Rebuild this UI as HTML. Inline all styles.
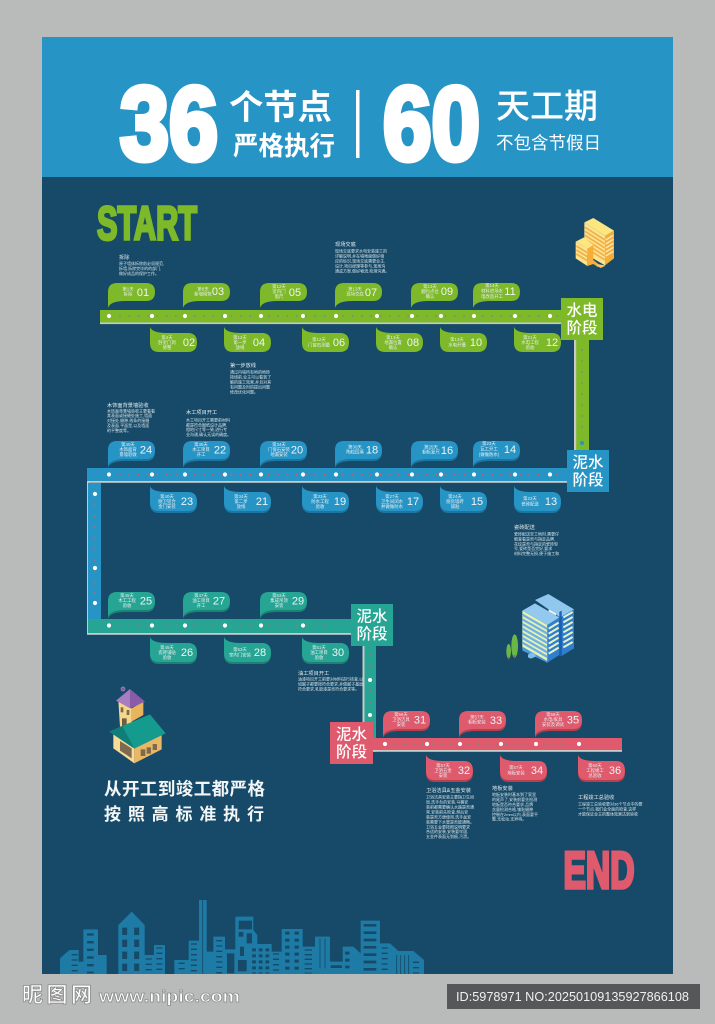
<!DOCTYPE html>
<html lang="zh"><head><meta charset="utf-8"><title>36个节点 60天工期</title>
<style>
html,body{margin:0;padding:0;background:#b9baba}
svg{display:block}
text{font-family:"Liberation Sans","Noto Sans CJK SC",sans-serif}
.t{font-size:4.4px;fill:#e6eef0;text-anchor:middle}
.n{font-size:11px;fill:#eef5f5;text-anchor:middle}
.h{font-size:5.2px;fill:#e6ecef}
.b{font-size:4px;fill:#d8e2e7}
.x{font-size:15.5px;font-weight:500;fill:#fff;text-anchor:middle}
</style></head><body>
<svg width="715" height="1024" viewBox="0 0 715 1024" xmlns="http://www.w3.org/2000/svg">
<defs>
<path id="u" d="M0,25V9Q0,0 9,0H38Q47,0 47,9Q47,18 38,18H17Q2,18 0,25Z"/>
<path id="d" d="M0,-6Q2,0 17,0H38Q47,0 47,9.5Q47,19 38,19H9Q0,19 0,10Z"/>
</defs>
<rect width="715" height="1024" fill="#b9baba"/>
<rect x="42" y="37" width="631" height="937" fill="#164a68"/>
<rect x="42" y="37" width="631" height="140" fill="#2794c6"/>

<!-- header -->
<g fill="#fff">
<text x="120" y="159.500" font-size="104" font-weight="700" stroke="#fff" stroke-width="6" textLength="98" lengthAdjust="spacingAndGlyphs">36</text>
<text x="383" y="159.500" font-size="104" font-weight="700" stroke="#fff" stroke-width="6" textLength="97" lengthAdjust="spacingAndGlyphs">60</text>
<text x="229" y="119" font-size="34" font-weight="700" textLength="103" lengthAdjust="spacingAndGlyphs">个节点</text>
<text x="233" y="155" font-size="26" font-weight="700" textLength="102" lengthAdjust="spacingAndGlyphs">严格执行</text>
<rect x="356" y="90" width="3.5" height="68"/>
<text x="496" y="118" font-size="34" font-weight="500" textLength="102" lengthAdjust="spacingAndGlyphs">天工期</text>
<text x="496" y="149" font-size="17.5" textLength="105" lengthAdjust="spacingAndGlyphs">不包含节假日</text>
</g>

<!-- START / END -->
<text x="97" y="239.500" font-size="47" font-weight="700" fill="#7db928" stroke="#7db928" stroke-width="3" textLength="100" lengthAdjust="spacingAndGlyphs">START</text>
<text x="563.500" y="888" font-size="52" font-weight="700" fill="#de5a6c" stroke="#de5a6c" stroke-width="3.500" textLength="71" lengthAdjust="spacingAndGlyphs">END</text>

<!-- red vertical link/teal road -->
<rect x="363" y="640" width="13" height="112" fill="#27a594"/>
<rect x="362.5" y="646" width="2" height="106" fill="#c9c9c9"/>
<path d="M370,655V735" stroke="#c8606a" stroke-width="1.8" stroke-linecap="round" stroke-dasharray="0 12"/>
<circle cx="370" cy="680" r="2" fill="#fff"/><circle cx="370" cy="715" r="2" fill="#fff"/>

<rect x="87" y="481" width="1.8" height="153" fill="#c9c9c9"/>
<rect x="88" y="483" width="13" height="137" fill="#2794c6"/>
<path d="M95,505V600" stroke="#c8606a" stroke-width="1.8" stroke-linecap="round" stroke-dasharray="0 11"/>
<circle cx="95" cy="494" r="2.1" fill="#fff"/><circle cx="95" cy="568" r="2.1" fill="#fff"/><circle cx="95" cy="603" r="2.1" fill="#fff"/>

<rect x="574" y="335" width="15" height="120" fill="#7db928"/>
<rect x="574" y="340" width="2.2" height="112" fill="#c9c9c9"/>
<path d="M582,350V430" stroke="#6e8f8a" stroke-width="1.8" stroke-linecap="round" stroke-dasharray="0 11"/>
<circle cx="582" cy="443" r="2.1" fill="#2794c6"/>

<!-- roads -->
<rect x="100" y="310" width="470" height="12.5" fill="#7db928"/>
<rect x="100" y="322.5" width="462" height="1.6" fill="#c9c9c9"/>
<path d="M120,316H558" stroke="#6e8f8a" stroke-width="1.8" stroke-linecap="round" stroke-dasharray="0 9.3"/>

<rect x="87" y="468" width="485" height="13" fill="#2794c6"/>
<rect x="87" y="481" width="480" height="1.8" fill="#c9c9c9"/>
<path d="M120,474.5H560" stroke="#c8606a" stroke-width="1.8" stroke-linecap="round" stroke-dasharray="0 9.3"/>

<rect x="88" y="619" width="266" height="14" fill="#27a594"/>
<rect x="87" y="633" width="275" height="1.8" fill="#c9c9c9"/>
<path d="M120,625.5H330" stroke="#c8606a" stroke-width="1.8" stroke-linecap="round" stroke-dasharray="0 9.3"/>

<rect x="373" y="738" width="249" height="12" fill="#de5a6c"/>
<rect x="373" y="750" width="249" height="1.8" fill="#c9c9c9"/>
<path d="M395,744H570" stroke="#4f9a85" stroke-width="1.8" stroke-linecap="round" stroke-dasharray="0 9.3"/>

<!-- white dots -->
<g fill="#fff">
<circle cx="109" cy="316" r="2.1"/><circle cx="152" cy="316" r="2.1"/><circle cx="185" cy="316" r="2.1"/><circle cx="225" cy="316" r="2.1"/><circle cx="261" cy="316" r="2.1"/><circle cx="303" cy="316" r="2.1"/><circle cx="336" cy="316" r="2.1"/><circle cx="377" cy="316" r="2.1"/><circle cx="412" cy="316" r="2.1"/><circle cx="441" cy="316" r="2.1"/><circle cx="474" cy="316" r="2.1"/><circle cx="515" cy="316" r="2.1"/><circle cx="550" cy="316" r="2.1"/>
<circle cx="109" cy="474.5" r="2.1"/><circle cx="152" cy="474.5" r="2.1"/><circle cx="185" cy="474.5" r="2.1"/><circle cx="225" cy="474.5" r="2.1"/><circle cx="261" cy="474.5" r="2.1"/><circle cx="303" cy="474.5" r="2.1"/><circle cx="336" cy="474.5" r="2.1"/><circle cx="377" cy="474.5" r="2.1"/><circle cx="412" cy="474.5" r="2.1"/><circle cx="441" cy="474.5" r="2.1"/><circle cx="474" cy="474.5" r="2.1"/><circle cx="515" cy="474.5" r="2.1"/><circle cx="550" cy="474.5" r="2.1"/>
<circle cx="109" cy="625.5" r="2.1"/><circle cx="152" cy="625.5" r="2.1"/><circle cx="185" cy="625.5" r="2.1"/><circle cx="225" cy="625.5" r="2.1"/><circle cx="261" cy="625.5" r="2.1"/><circle cx="303" cy="625.5" r="2.1"/>
<circle cx="385" cy="744" r="2.1"/><circle cx="427" cy="744" r="2.1"/><circle cx="460" cy="744" r="2.1"/><circle cx="501" cy="744" r="2.1"/><circle cx="536" cy="744" r="2.1"/><circle cx="579" cy="744" r="2.1"/>
</g>

<!-- stage boxes -->
<rect x="561" y="298" width="42" height="42" fill="#7db928"/>
<text class="x" x="582" y="315.5" textLength="31">水电</text><text class="x" x="582" y="333" textLength="31">阶段</text>
<rect x="567" y="450" width="42" height="42" fill="#2794c6"/>
<text class="x" x="588" y="467.5" textLength="31">泥水</text><text class="x" x="588" y="485" textLength="31">阶段</text>
<rect x="351" y="604" width="42" height="42" fill="#27a594"/>
<text class="x" x="372" y="621.5" textLength="31">泥水</text><text class="x" x="372" y="639" textLength="31">阶段</text>
<rect x="330" y="722" width="43" height="42" fill="#de5a6c"/>
<text class="x" x="351.500" y="739.5" textLength="31">泥水</text><text class="x" x="351.500" y="757" textLength="31">阶段</text>

<!-- green bubbles -->
<g fill="#7db928">
<g transform="translate(108,283)"><use href="#u"/><text class="t" x="20" y="7.500">第1天</text><text class="t" x="20" y="12.500">拆除</text><text class="n" x="35" y="13">01</text></g>
<g transform="translate(183,283)"><use href="#u"/><text class="t" x="20" y="7.500">第8天</text><text class="t" x="20" y="12.500">新墙砌筑</text><text class="n" x="35" y="12">03</text></g>
<g transform="translate(260,283)"><use href="#u"/><text class="t" x="19" y="5">第12天</text><text class="t" x="19" y="10">室内门</text><text class="t" x="19" y="15">窗尺</text><text class="n" x="35" y="13">05</text></g>
<g transform="translate(335,283)"><use href="#u"/><text class="t" x="20" y="7.500">第13天</text><text class="t" x="20" y="12.500">现场交底</text><text class="n" x="36" y="13">07</text></g>
<g transform="translate(411,283)"><use href="#u"/><text class="t" x="19" y="5">第13天</text><text class="t" x="19" y="10">翻包点位</text><text class="t" x="19" y="15">确认</text><text class="n" x="36" y="12">09</text></g>
<g transform="translate(473,283)"><use href="#u"/><text class="t" x="19" y="4">第14天</text><text class="t" x="19" y="9.500">材料进场水</text><text class="t" x="19" y="15">电改造开工</text><text class="n" x="37" y="12">11</text></g>
<g transform="translate(150,333)"><use href="#d"/><text class="t" x="17" y="6">第4天</text><text class="t" x="17" y="11">卧室门洞</text><text class="t" x="17" y="16">修整</text><text class="n" x="39" y="13">02</text></g>
<g transform="translate(224,333)"><use href="#d"/><text class="t" x="16" y="6">第12天</text><text class="t" x="16" y="11">第一步</text><text class="t" x="16" y="16">放线</text><text class="n" x="35" y="13">04</text></g>
<g transform="translate(302,333)"><use href="#d"/><text class="t" x="17" y="8">第12天</text><text class="t" x="17" y="13.500">门窗石测量</text><text class="n" x="37" y="13">06</text></g>
<g transform="translate(376,333)"><use href="#d"/><text class="t" x="17" y="6">第13天</text><text class="t" x="17" y="11">地漏位置</text><text class="t" x="17" y="16">确认</text><text class="n" x="37" y="13">08</text></g>
<g transform="translate(440,333)"><use href="#d"/><text class="t" x="17" y="8">第13天</text><text class="t" x="17" y="13.500">水电开槽</text><text class="n" x="36" y="13">10</text></g>
<g transform="translate(514,333)"><use href="#d"/><text class="t" x="16" y="6">第21天</text><text class="t" x="16" y="11">水电工程</text><text class="t" x="16" y="16">验收</text><text class="n" x="38" y="13">12</text></g>
</g>

<!-- blue bubbles -->
<g fill="#2794c6">
<g transform="translate(108,441)"><use href="#u" y="2" fill="#1c76a3"/><use href="#u"/><text class="t" x="20" y="5">第40天</text><text class="t" x="20" y="10">木饰面背</text><text class="t" x="20" y="15">景墙验收</text><text class="n" x="38" y="12.500">24</text></g>
<g transform="translate(183,441)"><use href="#u" y="2" fill="#1c76a3"/><use href="#u"/><text class="t" x="18" y="5">第35天</text><text class="t" x="18" y="10">木工项目</text><text class="t" x="18" y="15">开工</text><text class="n" x="37" y="12.500">22</text></g>
<g transform="translate(260,441)"><use href="#u" y="2" fill="#1c76a3"/><use href="#u"/><text class="t" x="19" y="5">第34天</text><text class="t" x="19" y="10">门窗石安装</text><text class="t" x="19" y="15">地漏安装</text><text class="n" x="37" y="12.500">20</text></g>
<g transform="translate(335,441)"><use href="#u" y="2" fill="#1c76a3"/><use href="#u"/><text class="t" x="20" y="7.500">第30天</text><text class="t" x="20" y="12.500">陶粒回填</text><text class="n" x="37" y="12.500">18</text></g>
<g transform="translate(411,441)"><use href="#u" y="2" fill="#1c76a3"/><use href="#u"/><text class="t" x="20" y="7.500">第25天</text><text class="t" x="20" y="12.500">橱柜复尺</text><text class="n" x="36" y="13">16</text></g>
<g transform="translate(473,441)"><use href="#u" y="2" fill="#1c76a3"/><use href="#u"/><text class="t" x="16" y="4">第23天</text><text class="t" x="16" y="9.500">瓦工开工</text><text class="t" x="16" y="15">(做做防水)</text><text class="n" x="37" y="12">14</text></g>
<g transform="translate(150,492)"><use href="#d" y="2" fill="#1c76a3"/><use href="#d"/><text class="t" x="17" y="6">第40天</text><text class="t" x="17" y="11">厨卫铝合</text><text class="t" x="17" y="16">金门安装</text><text class="n" x="37" y="13">23</text></g>
<g transform="translate(224,492)"><use href="#d" y="2" fill="#1c76a3"/><use href="#d"/><text class="t" x="17" y="6">第34天</text><text class="t" x="17" y="11">第二步</text><text class="t" x="17" y="16">放线</text><text class="n" x="38" y="13">21</text></g>
<g transform="translate(302,492)"><use href="#d" y="2" fill="#1c76a3"/><use href="#d"/><text class="t" x="18" y="6">第33天</text><text class="t" x="18" y="11">防水工程</text><text class="t" x="18" y="16">验收</text><text class="n" x="38" y="13">19</text></g>
<g transform="translate(376,492)"><use href="#d" y="2" fill="#1c76a3"/><use href="#d"/><text class="t" x="16" y="6">第27天</text><text class="t" x="16" y="11">卫生间闭水</text><text class="t" x="16" y="16">并做做防水</text><text class="n" x="37" y="13">17</text></g>
<g transform="translate(440,492)"><use href="#d" y="2" fill="#1c76a3"/><use href="#d"/><text class="t" x="15" y="6">第24天</text><text class="t" x="15" y="11">厨房墙砖</text><text class="t" x="15" y="16">铺贴</text><text class="n" x="37" y="13">15</text></g>
<g transform="translate(514,492)"><use href="#d" y="2" fill="#1c76a3"/><use href="#d"/><text class="t" x="16" y="8">第22天</text><text class="t" x="16" y="13.500">瓷砖配送</text><text class="n" x="37" y="13">13</text></g>
</g>

<!-- teal bubbles -->
<g fill="#27a594">
<g transform="translate(108,592)"><use href="#u" y="2" fill="#1d8173"/><use href="#u"/><text class="t" x="19" y="5">第45天</text><text class="t" x="19" y="10">木工工程</text><text class="t" x="19" y="15">验收</text><text class="n" x="38" y="12.500">25</text></g>
<g transform="translate(183,592)"><use href="#u" y="2" fill="#1d8173"/><use href="#u"/><text class="t" x="18" y="5">第47天</text><text class="t" x="18" y="10">油工项目</text><text class="t" x="18" y="15">开工</text><text class="n" x="36" y="12.500">27</text></g>
<g transform="translate(260,592)"><use href="#u" y="2" fill="#1d8173"/><use href="#u"/><text class="t" x="19" y="5">第53天</text><text class="t" x="19" y="10">集成吊顶</text><text class="t" x="19" y="15">安装</text><text class="n" x="38" y="12.500">29</text></g>
<g transform="translate(150,643)"><use href="#d" y="2" fill="#1d8173"/><use href="#d"/><text class="t" x="17" y="6">第45天</text><text class="t" x="17" y="11">瓷砖铺贴</text><text class="t" x="17" y="16">验收</text><text class="n" x="37" y="13">26</text></g>
<g transform="translate(224,643)"><use href="#d" y="2" fill="#1d8173"/><use href="#d"/><text class="t" x="16" y="8">第53天</text><text class="t" x="16" y="13.500">室内门安装</text><text class="n" x="36" y="13">28</text></g>
<g transform="translate(302,643)"><use href="#d" y="2" fill="#1d8173"/><use href="#d"/><text class="t" x="17" y="6">第51天</text><text class="t" x="17" y="11">油工项目</text><text class="t" x="17" y="16">验收</text><text class="n" x="36" y="13">30</text></g>
</g>

<!-- red bubbles -->
<g fill="#de5a6c">
<g transform="translate(383,711)"><use href="#u" y="2" fill="#b5414f"/><use href="#u"/><text class="t" x="18" y="5">第56天</text><text class="t" x="18" y="10">卫浴洁具</text><text class="t" x="18" y="15">安装</text><text class="n" x="37" y="12.500">31</text></g>
<g transform="translate(459,711)"><use href="#u" y="2" fill="#b5414f"/><use href="#u"/><text class="t" x="18" y="7.500">第57天</text><text class="t" x="18" y="12.500">橱柜安装</text><text class="n" x="37" y="13">33</text></g>
<g transform="translate(535,711)"><use href="#u" y="2" fill="#b5414f"/><use href="#u"/><text class="t" x="18" y="5">第58天</text><text class="t" x="18" y="10">水电/家具</text><text class="t" x="18" y="15">安装及调试</text><text class="n" x="38" y="12.500">35</text></g>
<g transform="translate(426,761)"><use href="#d" y="2" fill="#b5414f"/><use href="#d"/><text class="t" x="17" y="6">第57天</text><text class="t" x="17" y="11">卫浴五金</text><text class="t" x="17" y="16">安装</text><text class="n" x="38" y="13">32</text></g>
<g transform="translate(500,761)"><use href="#d" y="2" fill="#b5414f"/><use href="#d"/><text class="t" x="16" y="8">第57天</text><text class="t" x="16" y="13.500">地板安装</text><text class="n" x="37" y="13">34</text></g>
<g transform="translate(578,761)"><use href="#d" y="2" fill="#b5414f"/><use href="#d"/><text class="t" x="17" y="6">第60天</text><text class="t" x="17" y="11">工程竣工</text><text class="t" x="17" y="16">总验收</text><text class="n" x="37" y="13">36</text></g>
</g>

<!-- description blocks -->
<text class="h" x="119" y="259">拆除</text>
<text class="b" x="119" y="265">原子墙体拆除前必须规范,</text>
<text class="b" x="119" y="270">拆墙,拆除完毕的的部门,</text>
<text class="b" x="119" y="275">做好成品的保护工作。</text>

<text class="h" x="335" y="246">现场交底</text>
<text class="b" x="335" y="252.500">现场交底要求水电安装施工的</text>
<text class="b" x="335" y="257.500">详解说明,并在墙地面做好相</text>
<text class="b" x="335" y="262.500">应的标识,现场交底需要业主,</text>
<text class="b" x="335" y="267.500">设计,项目经理等参与,现场沟</text>
<text class="b" x="335" y="272.500">通或方案,做好物流,检测沟通。</text>

<text class="h" x="230" y="367">第一步放线</text>
<text class="b" x="230" y="373.500">通过内墙所有地的地砖</text>
<text class="b" x="230" y="378.500">按线前,业主可以看到了</text>
<text class="b" x="230" y="383.500">解的施工效果,并且对其</text>
<text class="b" x="230" y="388.500">有问题及时的提出问题</text>
<text class="b" x="230" y="393.500">修改优化问题。</text>

<text class="h" x="107" y="407">木饰面背景墙验收</text>
<text class="b" x="107" y="412.500">木饰面背景墙验收主要看看</text>
<text class="b" x="107" y="417">其表面或接缝处施工,墙面</text>
<text class="b" x="107" y="422">对接处,缝隙,线条的接缝</text>
<text class="b" x="107" y="427">及表面,平面是,以及墙面</text>
<text class="b" x="107" y="432">的平整度等。</text>

<text class="h" x="186" y="414">木工项目开工</text>
<text class="b" x="186" y="421.500">木工项目开工需要前材料</text>
<text class="b" x="186" y="426.500">都是符合图纸设计品牌,</text>
<text class="b" x="186" y="431">相地尺寸等一致,进行专</text>
<text class="b" x="186" y="436">业沟通,确认无误的确度。</text>

<text class="h" x="514" y="529">瓷砖配送</text>
<text class="b" x="514" y="535.500">瓷砖配送至工地时,需要仔</text>
<text class="b" x="514" y="540.500">细查看是否与指定品牌,</text>
<text class="b" x="514" y="545.500">花纹是否与指定的瓷砖型</text>
<text class="b" x="514" y="550">号,瓷砖是否完好,要求</text>
<text class="b" x="514" y="555">材料完整无损,便于施工和</text>

<text class="h" x="298" y="675">油工项目开工</text>
<text class="b" x="298" y="680.500">油漆项目开工前要对材料进行核查,以</text>
<text class="b" x="298" y="685.500">如腻子都要按符合要求,并做腻子基层</text>
<text class="b" x="298" y="690.500">符合要求,乳胶漆是否符合要求等。</text>

<text class="h" x="426" y="792">卫浴洁具&amp;五金安装</text>
<text class="b" x="426" y="798.500">卫浴洁具安装主要指卫生间</text>
<text class="b" x="426" y="803.500">局,洗手台的安装,马桶安</text>
<text class="b" x="426" y="808.500">装前都需要确认水路是否通</text>
<text class="b" x="426" y="813.500">常,安装前先检查,然后安</text>
<text class="b" x="426" y="818.500">装是否方便使用,洗手盆安</text>
<text class="b" x="426" y="823.500">装需要下水管是否能通畅。</text>
<text class="b" x="426" y="828.500">卫浴五金要按照说明要求</text>
<text class="b" x="426" y="833">合适的安装,安装要牢固,</text>
<text class="b" x="426" y="838">五金件表面无划痕,污渍。</text>

<text class="h" x="492" y="790">地板安装</text>
<text class="b" x="492" y="796">地板安装时基本到了家里</text>
<text class="b" x="492" y="801">的尾声了,安装前要先检测</text>
<text class="b" x="492" y="806">地板是否符合要求,品牌</text>
<text class="b" x="492" y="811">含量检测合格,铺贴缝隙</text>
<text class="b" x="492" y="816">控制在2mm以内,表面要平</text>
<text class="b" x="492" y="820.500">整,无松动,无异响。</text>

<text class="h" x="578" y="799">工程竣工总验收</text>
<text class="b" x="578" y="805.500">工程竣工总验收要对36个节点中的要</text>
<text class="b" x="578" y="810.500">一个节点,我们会全面的检查,这样</text>
<text class="b" x="578" y="815.500">才能保证业主的整体效果达到验收</text>

<!-- slogan -->
<g fill="#fff" font-weight="500">
<text x="104" y="795" font-size="17.5" font-weight="700" fill="#f2f6f7" textLength="161">从开工到竣工都严格</text>
<text x="104" y="820" font-size="17" font-weight="700" fill="#f2f6f7" textLength="160">按照高标准执行</text>
</g>

<!-- yellow building -->
<g transform="translate(350,190) scale(.33333)">
<polygon points="703,97 765,138 765,226 703,190" fill="#fbe38f"/>
<polygon points="765,138 792,122 792,205 765,226" fill="#f6ad3a"/>
<polygon points="703,97 730,84 792,122 765,138" fill="#fde57f"/>
<path d="M705,112L765,150M705,124L765,162M705,136L765,174M705,148L765,186M705,160L765,198M705,172L765,210" stroke="#f3b048" stroke-width="5" fill="none"/>
<path d="M767,150L790,136M767,162L790,148M767,174L790,160M767,186L790,172M767,198L790,184" stroke="#fde9b5" stroke-width="4" fill="none"/>
<polygon points="677,155 712,176 712,228 677,205" fill="#fbe38f"/>
<polygon points="712,176 730,165 730,210 745,222 745,232 730,222 712,228" fill="#f6ad3a"/>
<polygon points="677,155 702,142 730,165 712,176" fill="#fde57f"/>
<path d="M679,168L712,188M679,180L712,200M679,192L712,212" stroke="#f3b048" stroke-width="5" fill="none"/>
<polygon points="742,222 765,226 765,228 752,234 742,228" fill="#fcc66a"/>
</g>

<!-- blue building -->
<g transform="translate(500,580) scale(.33333)">
<polygon points="185,108 222,88 222,205 185,228" fill="#2f7fce"/>
<polygon points="105,60 145,42 222,88 180,112" fill="#8fc7ee"/>
<path d="M190,112L218,96M190,127L218,111M190,142L218,126M190,157L218,141M190,172L218,156M190,187L218,171M190,202L218,186" stroke="#e8f2c8" stroke-width="6" fill="none"/>
<polygon points="67,92 142,135 142,248 67,205" fill="#e8f4ae"/>
<polygon points="142,135 178,112 178,225 142,248" fill="#2f7fce"/>
<polygon points="67,92 105,70 178,112 142,135" fill="#93c9ef"/>
<path d="M67,104L142,147M67,118L142,161M67,132L142,175M67,146L142,189M67,160L142,203M67,174L142,217M67,188L142,231" stroke="#6fb1e6" stroke-width="7" fill="none"/>
<polygon points="67,200 142,243 142,248 67,212" fill="#4a97dd"/>
<path d="M146,146L176,128M146,161L176,143M146,176L176,158M146,191L176,173M146,206L176,188M146,221L176,203" stroke="#e8f2c8" stroke-width="6" fill="none"/>
<polygon points="146,88 168,100 168,106 146,94" fill="#f0f4f8"/>
<polygon points="178,96 185,92 185,228 178,228" fill="#1d5fb0"/>
<polygon points="84,224 98,216 107,222 107,230 93,236 84,232" fill="#7fbde8"/>
<ellipse cx="44" cy="198" rx="10" ry="35" fill="#6bb848"/><rect x="42.500" y="225" width="3" height="10" fill="#6b6b4a"/>
<ellipse cx="26" cy="214" rx="7" ry="22" fill="#6bb848"/><rect x="24.500" y="230" width="3" height="9" fill="#6b6b4a"/>
</g>

<!-- house -->
<g transform="translate(90,680) scale(.33333)">
<circle cx="99" cy="27" r="6" fill="#7d5a9c" stroke="#b28ad0" stroke-width="2"/>
<polygon points="85,62 125,85 125,135 90,140" fill="#f6d78a"/>
<polygon points="125,85 160,65 160,105 125,125" fill="#e8b45e"/>
<polygon points="78,62 120,27 120,85" fill="#a77cc0"/>
<polygon points="120,27 165,65 120,85" fill="#8a5ca8"/>
<rect x="92" y="82" width="8" height="15" fill="#7b6a4a"/><rect x="110" y="90" width="8" height="15" fill="#7b6a4a"/>
<rect x="96" y="115" width="14" height="25" fill="#6e5d44"/>
<polygon points="70,160 133,202 133,250 70,205" fill="#f8dc95"/>
<polygon points="133,202 215,165 215,208 133,250" fill="#eab765"/>
<polygon points="90,183 125,205 125,235 90,212" fill="#7d6b50"/>
<rect x="152" y="208" width="14" height="20" fill="#7d6b50"/><rect x="170" y="202" width="13" height="19" fill="#7d6b50"/><rect x="188" y="192" width="13" height="18" fill="#7d6b50"/>
<polygon points="57,155 180,103 227,160 133,206 97,140" fill="#159a8e"/>
<polygon points="57,155 97,138 133,206" fill="#0f7e78"/>
</g>

<!-- skyline -->
<g transform="translate(50,890) scale(.33333)">
<path fill="#1d7ba6" d="M30,252V205L58,180H86V215H100V118H144V195H170V252ZM205,252V105L245,65L284,105V195H312V165H345V252ZM373,252V210H416V152H447V30H470V185H490V140H525V178H556V80H610V120L622,135V162H665V185H695V117H758V170H795V140H840V215H878V170H910L932,190V92H990V160H1020L1045,183H1090L1122,210V252Z"/>
<g fill="none" stroke="#164a68">
<path stroke-width="20" stroke-dasharray="7 16" d="M121,130V250"/>
<path stroke-width="15" stroke-dasharray="22 14" d="M224,113V250M260,113V250"/>
<path stroke-width="18" stroke-dasharray="4 12" d="M74,192V250M328,172V250M296,205V250M395,218V250M432,160V250M508,150V250M678,190V250M1004,172V250M1098,215V250"/>
<path stroke-width="2.500" d="M458,30V252M1040,195V252M1052,195V252M1064,195V252M1076,195V252M810,145V235M825,145V235"/>
<path stroke-width="22" stroke-dasharray="4 10" d="M775,178V250"/>
<path stroke-width="38" stroke-dasharray="8 14" d="M960,102V245"/>
<path stroke-width="13" stroke-dasharray="9 12" d="M712,125V250M740,125V250M892,185V235"/>
<path stroke-width="11" stroke-dasharray="9 9" d="M612,175V250M632,175V250M652,175V250"/>
</g>
<g fill="#164a68">
<rect x="531" y="190" width="22" height="60"/><rect x="564" y="210" width="26" height="34"/><rect x="570" y="170" width="12" height="28"/>
<rect x="566" y="92" width="40" height="26"/><rect x="590" y="130" width="16" height="30"/><rect x="566" y="126" width="14" height="14"/>
<rect x="842" y="226" width="34" height="8"/>
</g>
</g>

<!-- watermark -->
<text x="22" y="1002" font-size="21" font-weight="700" fill="#fff" stroke="#8a8a8a" stroke-width=".8" textLength="70">昵图网</text>
<text x="99" y="1002" font-size="17" font-weight="700" fill="#fff" stroke="#8a8a8a" stroke-width=".7" textLength="141" lengthAdjust="spacingAndGlyphs">www.nipic.com</text>
<rect x="447" y="984" width="253" height="25" fill="#555759"/>
<text x="456" y="1001" font-size="12.500" fill="#f0f0f0" textLength="233" lengthAdjust="spacingAndGlyphs">ID:5978971 NO:20250109135927866108</text>
</svg>
</body></html>
